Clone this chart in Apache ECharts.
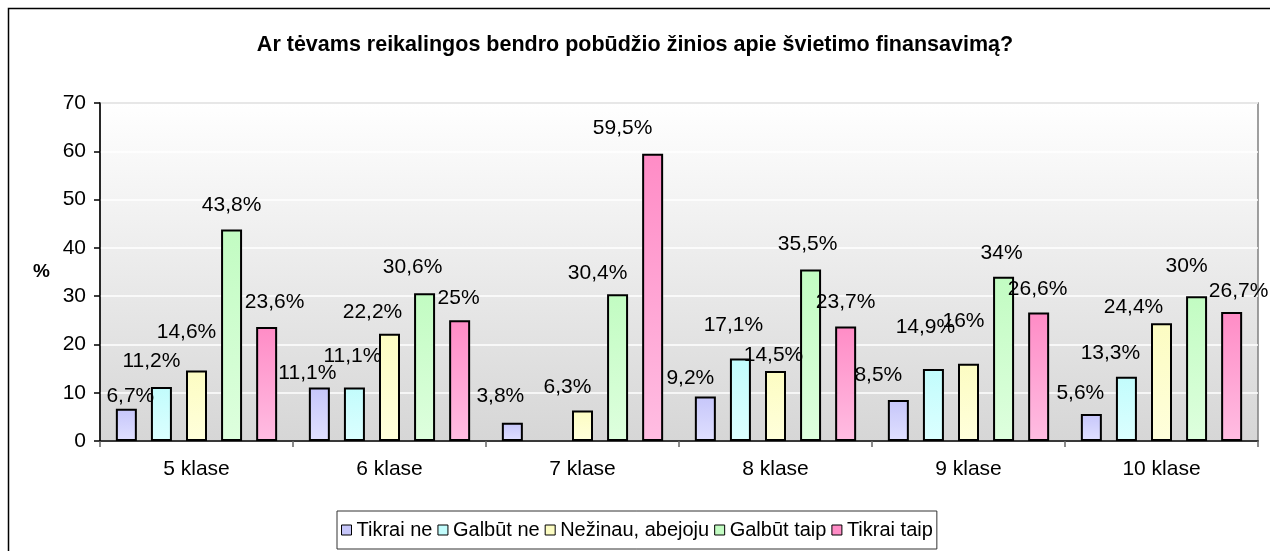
<!DOCTYPE html>
<html>
<head>
<meta charset="utf-8">
<script src="https://cdn.jsdelivr.net/npm/echarts@6/dist/echarts.min.js"></script>
<style>
html,body{margin:0;padding:0;background:#fff;}
#main{width:1270px;height:551px;}
</style>
</head>
<body>
<div id="main"></div>
<script>
var title = 'Ar tėvams reikalingos bendro pobūdžio žinios apie švietimo finansavimą?';
var categories = ['5 klase', '6 klase', '7 klase', '8 klase', '9 klase', '10 klase'];
var seriesNames = ['Tikrai ne', 'Galbūt ne', 'Nežinau, abejoju', 'Galbūt taip', 'Tikrai taip'];
var tikraiNe   = [6.7, 11.1, 3.8, 9.2, 8.5, 5.6];
var galbutNe   = [11.2, 11.1, null, 17.1, 14.9, 13.3];
var nezinau    = [14.6, 22.2, 6.3, 14.5, 16, 24.4];
var galbutTaip = [43.8, 30.6, 30.4, 35.5, 34, 30];
var tikraiTaip = [23.6, 25, 59.5, 23.7, 26.6, 26.7];
var yTicks = [0, 10, 20, 30, 40, 50, 60, 70];

// label nudges [dx, dy] relative to the default 'top' placement (layout only)
var nudges = [
  [[4,11],[-12,9],[-12,-3],[-15,5],[-20,-1],[-11,3]],
  [[-10,-2],[-2,-8],[0,0],[-7,-10],[-8,-18],[-16,0]],
  [[-10,-15],[-17,2],[-15,0],[-2,8],[-5,-19],[-28,8]],
  [[0,-1],[-12,-3],[-20,2],[-3,-2],[-2,0],[-10,-6]],
  [[8,-1],[-1,1],[-30,-2],[0,-1],[-1,0],[7,3]]
];

var allValues = [tikraiNe, galbutNe, nezinau, galbutTaip, tikraiTaip];
var gradTop = ['#c6c6fa', '#c2fcfc', '#fcfcc2', '#c2fcc2', '#ff8cc6'];
var gradBot = ['#e0e0ff', '#dcffff', '#ffffdc', '#deffde', '#ffbde2'];

var FONT = '"Liberation Sans", Arial, sans-serif';

function fmt(v){ return String(v).replace('.', ',') + '%'; }

var series = allValues.map(function(vals, si){
  return {
    name: seriesNames[si],
    type: 'bar',
    barWidth: 21,
    barGap: '67%',
    itemStyle: {
      color: new echarts.graphic.LinearGradient(0,0,0,1,[
        {offset:0, color: gradTop[si]},
        {offset:1, color: gradBot[si]}
      ]),
      borderColor: '#000',
      borderWidth: 2
    },
    label: {
      show: true,
      position: 'top',
      distance: 13,
      fontFamily: FONT,
      fontSize: 21,
      color: '#000',
      formatter: function(p){ return p.value == null ? '' : fmt(p.value); }
    },
    data: vals.map(function(v, ci){
      if (v == null) return null;
      return { value: v, label: { offset: nudges[si][ci] } };
    })
  };
});

var chart = echarts.init(document.getElementById('main'));
chart.setOption({
  animation: false,
  backgroundColor: '#fff',
  graphic: [{
    type: 'rect',
    shape: { x: 8.5, y: 8.5, width: 1300, height: 600 },
    style: { fill: 'none', stroke: '#000', lineWidth: 1.5 },
    silent: true,
    z: -10
  }],
  title: {
    text: title,
    left: 'center',
    top: 29,
    textStyle: { fontFamily: FONT, fontSize: 21.5, fontWeight: 'bold', color: '#000' }
  },
  legend: {
    left: 337,
    top: 511,
    padding: [9, 4],
    itemGap: 5,
    itemWidth: 10,
    itemHeight: 10,
    borderColor: '#333',
    borderWidth: 1,
    icon: 'rect',
    textStyle: { fontFamily: FONT, fontSize: 20, color: '#000' },
    data: seriesNames.map(function(n, i){
      return { name: n, itemStyle: { color: gradTop[i], borderColor: '#000', borderWidth: 1 } };
    })
  },
  grid: {
    left: 100,
    right: 12,
    top: 103,
    bottom: 110,
    show: true,
    borderColor: '#808080',
    borderWidth: 1.5,
    backgroundColor: new echarts.graphic.LinearGradient(0,0,0,1,[
      {offset:0, color:'#ffffff'},
      {offset:1, color:'#d6d6d6'}
    ])
  },
  xAxis: {
    type: 'category',
    data: categories,
    axisLine: { lineStyle: { color: '#000', width: 1.5 } },
    axisTick: { show: true, length: 6, lineStyle: { color: '#666', width: 1.5 } },
    axisLabel: { fontFamily: FONT, fontSize: 21, color: '#000', margin: 18 }
  },
  yAxis: {
    type: 'value',
    min: yTicks[0],
    max: yTicks[yTicks.length-1],
    interval: 10,
    name: '%',
    nameLocation: 'middle',
    nameRotate: 0,
    nameGap: 50,
    nameTextStyle: { fontFamily: FONT, fontSize: 19, fontWeight: 'bold', color: '#000' },
    axisLine: { show: true, lineStyle: { color: '#000', width: 1.5 } },
    axisTick: { show: true, length: 6, lineStyle: { color: '#000', width: 1.5 } },
    axisLabel: { fontFamily: FONT, fontSize: 21, color: '#000', margin: 14 },
    splitLine: { show: true, lineStyle: { color: '#ffffff', width: 1.5 } }
  },
  series: series
});
</script>
</body>
</html>
